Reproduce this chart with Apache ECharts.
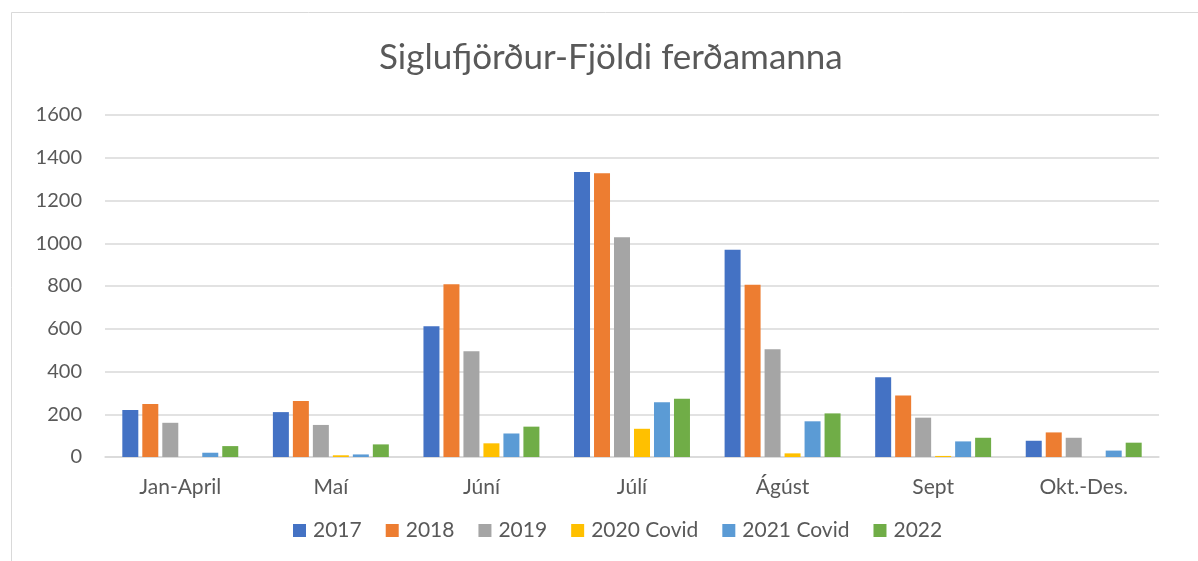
<!DOCTYPE html>
<html><head><meta charset="utf-8">
<script src="https://cdn.jsdelivr.net/npm/echarts@6/dist/echarts.min.js"></script>
<style>html,body{margin:0;padding:0;background:#fff}#c{width:1198px;height:561px}</style>
</head><body><div id="c"></div>
<script>
const categories = ['Jan-April','Maí','Júní','Júlí','Ágúst','Sept','Okt.-Des.'];
const seriesNames = ['2017','2018','2019','2020 Covid','2021 Covid','2022'];
const s2017 = [220, 210, 612, 1333, 970, 373, 76];
const s2018 = [248, 262, 808, 1328, 806, 288, 115];
const s2019 = [160, 150, 495, 1028, 504, 184, 90];
const s2020 = [0, 8, 64, 132, 17, 5, 0];
const s2021 = [20, 12, 110, 256, 167, 73, 30];
const s2022 = [51, 59, 142, 273, 204, 90, 67];
const colors = ['#4472C4','#ED7D31','#A5A5A5','#FFC000','#5B9BD5','#70AD47'];
const allData = [s2017, s2018, s2019, s2020, s2021, s2022];
const FONT = 'Lato';
const chart = echarts.init(document.getElementById('c'), null, {renderer:'canvas'});
chart.setOption({
  animation:false,
  backgroundColor:'#fff',
  color: colors,
  title:{text:'Siglufjörður-Fjöldi ferðamanna', left:374, top:35,
    textStyle:{fontFamily:FONT, fontSize:35, fontWeight:'normal', color:'#595959'}},
  graphic:[{type:'rect', shape:{x:11.5,y:12.5,width:1200,height:600},
    style:{fill:null, stroke:'#D9D9D9', lineWidth:1}, silent:true, z:-1}],
  legend:{bottom:15, left:288, itemWidth:13, itemHeight:13, itemGap:24,
    icon:'rect',
    textStyle:{fontFamily:FONT, fontSize:21, color:'#595959', padding:[0,0,0,2]},
    data: seriesNames},
  grid:{left:105, right:39, top:115, bottom:104, containLabel:false},
  xAxis:{type:'category', data:categories,
    axisLine:{lineStyle:{color:'#D9D9D9', width:1.5}},
    axisTick:{show:false},
    axisLabel:{fontFamily:FONT, fontSize:21, color:'#595959', margin:20}},
  yAxis:{type:'value', min:0, max:1600, interval:200,
    axisLine:{show:false}, axisTick:{show:false},
    splitLine:{lineStyle:{color:'#D9D9D9', width:1.5}},
    axisLabel:{fontFamily:FONT, fontSize:20, color:'#595959', margin:23,
      formatter: v => String(v)}},
  series: seriesNames.map((n,i)=>({
    name:n, type:'bar', data:allData[i], barGap:'25%', barCategoryGap:'23%',
    itemStyle:{color:colors[i]}
  }))
});
</script></body></html>
